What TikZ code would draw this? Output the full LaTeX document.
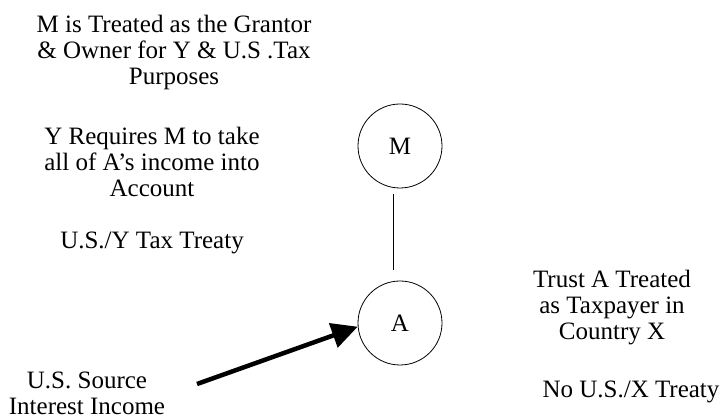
\documentclass[tikz,border=0pt]{standalone}
\usepackage{fontspec}
\setmainfont{Liberation Serif}
\usetikzlibrary{arrows.meta}
\begin{document}
\begin{tikzpicture}[x=1pt,y=-1pt,
  entity/.style={circle,draw,line width=0.8pt,minimum size=84pt,inner sep=0pt,font=\fontsize{25}{26}\selectfont},
  note/.style={align=center,anchor=north,font=\fontsize{25}{26}\selectfont,inner sep=0pt}]
\useasboundingbox (0,0) rectangle (723,419);
% the two entities and the link between them
\node[entity] (M) at (400,146) {M};
\node[entity] (A) at (400,323) {A};
\draw[line width=0.8pt,shorten <=6pt,shorten >=11pt] ([xshift=-7pt]M.south) -- ([xshift=-7pt]A.north);
% explanatory notes
\node[note] (grantor) at (174,15) {M is Treated as the Grantor\\\& Owner for Y \& U.S .Tax\\Purposes};
\node[note] (requires) at (152,127) {Y Requires M to take\\all of A’s income into\\Account};
\node[note] (usy) at (152,232) {U.S./Y Tax Treaty};
\node[note] (trust) at (612,270) {Trust A Treated\\as Taxpayer in\\Country X};
\node[note] (nox) at (631,381) {No U.S./X Treaty};
\node[note] (income) at (87,372) {U.S. Source\\Interest Income};
% income flowing into A
\coordinate (src) at (197,384);
\draw[line width=4.5pt,-{Triangle[length=26pt,width=25pt]}] (src) -- (A.185);
\end{tikzpicture}
\end{document}
